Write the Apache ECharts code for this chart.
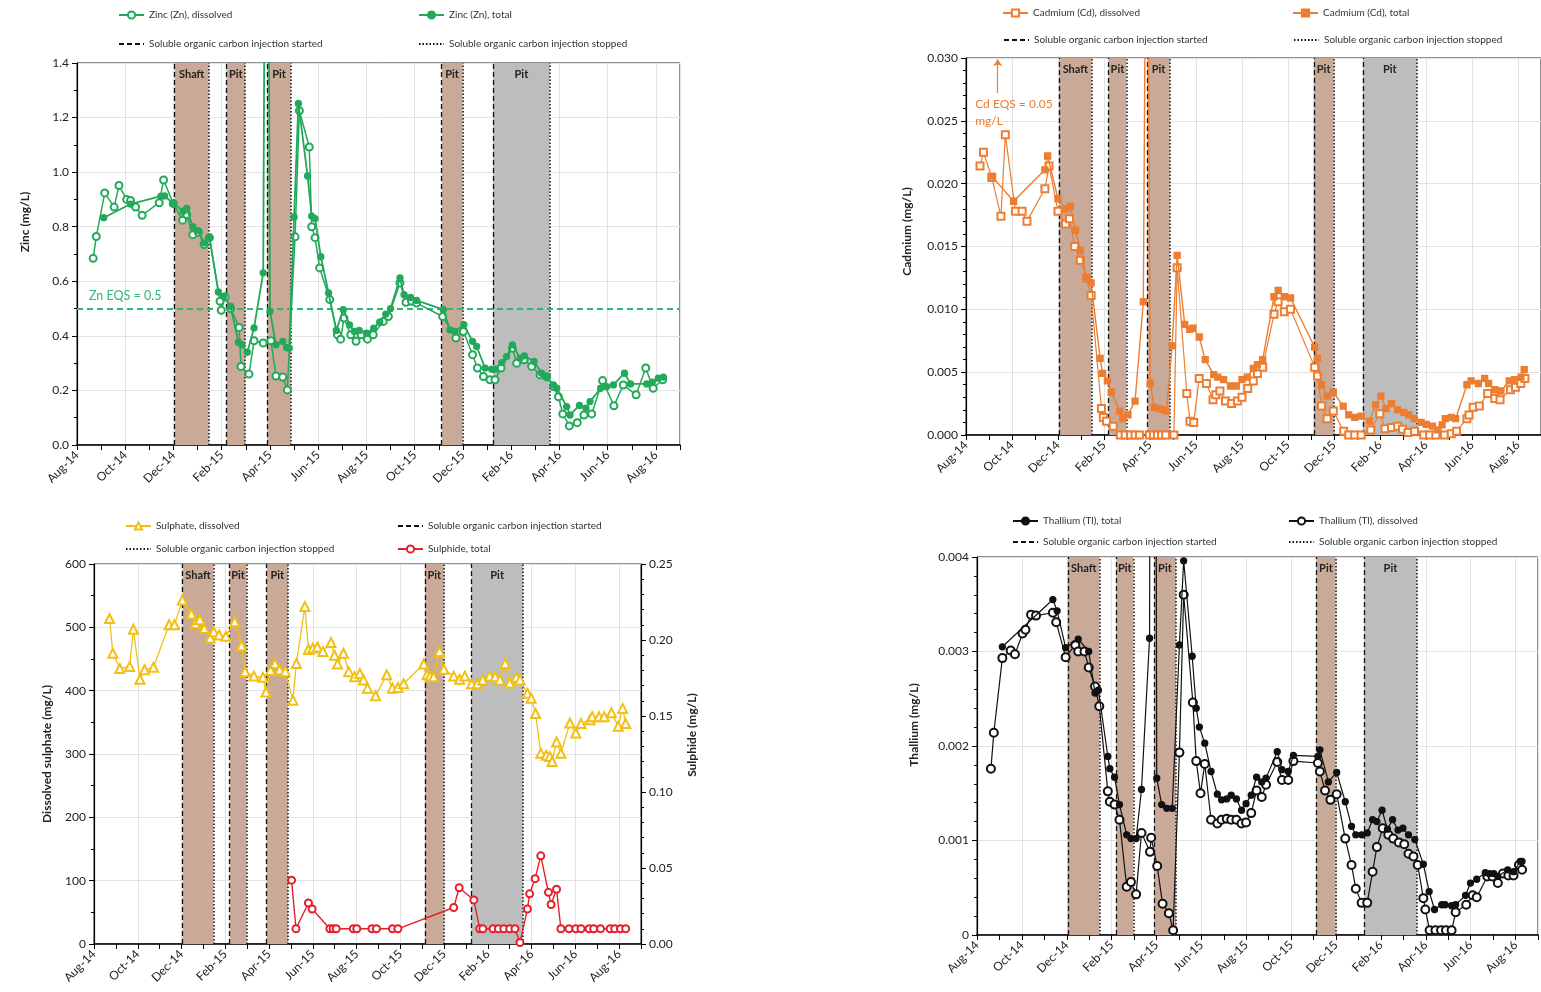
<!DOCTYPE html>
<html><head><meta charset="utf-8">
<script src="https://cdn.jsdelivr.net/npm/echarts@6/dist/echarts.min.js"></script>
<style>html,body{margin:0;padding:0;background:#fff}#c{width:1541px;height:992px}</style>
</head><body><div id="c"></div>
<script>
// x values are months since 1 Aug 2014 (0 = Aug-14, 24 = Aug-16)
const xTickLabels = ['Aug-14','Oct-14','Dec-14','Feb-15','Apr-15','Jun-15','Aug-15','Oct-15','Dec-15','Feb-16','Apr-16','Jun-16','Aug-16'];
const periodStart = [4.05, 6.20, 7.89, 15.12, 17.25];
const periodEnd   = [5.46, 6.97, 8.86, 15.98, 19.60];
const periodNames = ['Shaft','Pit','Pit','Pit','Pit'];
const znEqs = 0.5;
const cdEqsText = 'Cd EQS = 0.05\nmg/L';

const znDissolved = [[0.67,0.684],[0.80,0.764],[1.15,0.924],[1.54,0.872],[1.74,0.951],[2.06,0.90],[2.22,0.896],[2.43,0.872],[2.70,0.842],[3.41,0.888],[3.59,0.971],[3.99,0.885],[4.38,0.824],[4.55,0.845],[4.80,0.771],[5.03,0.78],[5.27,0.735],[5.49,0.76],[5.93,0.527],[5.98,0.494],[6.14,0.543],[6.37,0.50],[6.72,0.431],[6.80,0.288],[7.13,0.26],[7.34,0.382],[7.72,0.374],[8.04,0.382],[8.25,0.253],[8.53,0.249],[8.72,0.202],[9.04,0.763],[9.22,1.225],[9.63,1.092],[9.73,0.80],[9.87,0.76],[10.06,0.649],[10.48,0.533],[10.80,0.404],[10.93,0.388],[11.07,0.465],[11.35,0.404],[11.57,0.38],[11.78,0.404],[12.04,0.388],[12.28,0.404],[12.70,0.453],[12.91,0.471],[13.39,0.594],[13.64,0.523],[13.87,0.527],[14.08,0.52],[15.16,0.471],[15.71,0.392],[16.02,0.416],[16.40,0.331],[16.60,0.282],[16.85,0.251],[17.12,0.239],[17.33,0.239],[17.58,0.282],[18.05,0.355],[18.23,0.30],[18.53,0.312],[18.85,0.288],[19.20,0.257],[19.47,0.25],[19.75,0.214],[19.96,0.177],[20.14,0.114],[20.41,0.07],[20.74,0.082],[21.02,0.11],[21.34,0.114],[21.79,0.236],[22.26,0.144],[22.65,0.22],[23.18,0.184],[23.58,0.282],[23.89,0.208],[24.28,0.239]];
const znTotal = [[1.11,0.833],[2.22,0.883],[3.48,0.912],[3.63,0.913],[3.99,0.885],[4.41,0.857],[4.55,0.867],[4.80,0.80],[5.03,0.786],[5.27,0.741],[5.49,0.762],[5.86,0.561],[6.07,0.545],[6.37,0.508],[6.69,0.377],[6.83,0.367],[7.06,0.34],[7.34,0.429],[7.72,0.631],[7.87,3.5],[8.00,0.49],[8.25,0.367],[8.53,0.38],[8.69,0.357],[8.80,0.355],[9.00,0.836],[9.18,1.252],[9.56,0.986],[9.73,0.839],[9.87,0.83],[10.11,0.69],[10.43,0.557],[10.75,0.42],[11.04,0.496],[11.30,0.44],[11.50,0.416],[11.70,0.42],[12.00,0.41],[12.30,0.428],[12.55,0.45],[12.80,0.48],[13.00,0.50],[13.39,0.612],[13.56,0.551],[13.83,0.541],[14.08,0.53],[15.19,0.496],[15.46,0.422],[15.67,0.416],[16.04,0.441],[16.40,0.38],[16.57,0.361],[16.92,0.282],[17.19,0.278],[17.35,0.278],[17.61,0.302],[17.81,0.324],[18.05,0.367],[18.37,0.318],[18.55,0.327],[18.95,0.306],[19.26,0.263],[19.47,0.251],[19.75,0.22],[19.89,0.208],[20.30,0.141],[20.44,0.11],[20.83,0.145],[21.10,0.135],[21.27,0.159],[21.71,0.208],[21.96,0.214],[22.24,0.22],[22.70,0.263],[22.95,0.224],[23.62,0.224],[23.85,0.23],[24.10,0.245],[24.31,0.249]];

const cdDissolved = [[0.61,0.0214],[0.76,0.0225],[1.12,0.0205],[1.52,0.0174],[1.71,0.0239],[2.15,0.0178],[2.44,0.0178],[2.65,0.0170],[3.43,0.0196],[3.61,0.0214],[4.00,0.0178],[4.33,0.0168],[4.50,0.0172],[4.73,0.0150],[4.97,0.0139],[5.25,0.0125],[5.44,0.0111],[5.89,0.0021],[5.97,0.0014],[6.11,0.0011],[6.40,0.0007],[6.71,0],[6.92,0],[7.15,0],[7.35,0],[7.54,0],[7.97,0],[8.15,0],[8.32,0],[8.50,0],[8.68,0],[9.04,0],[9.18,0.0133],[9.60,0.0033],[9.74,0.0011],[9.90,0.0010],[10.14,0.0045],[10.45,0.0041],[10.74,0.0028],[10.86,0.0032],[11.04,0.0035],[11.28,0.0027],[11.55,0.0025],[11.80,0.0027],[12.00,0.0030],[12.25,0.0037],[12.49,0.0043],[12.67,0.0049],[12.90,0.0054],[13.39,0.0096],[13.57,0.0106],[13.84,0.0098],[14.11,0.0100],[15.16,0.0054],[15.28,0.0047],[15.46,0.0023],[15.70,0.0013],[15.97,0.0019],[16.42,0.0003],[16.64,0],[16.90,0],[17.18,0],[17.60,0.0004],[17.99,0.0017],[18.22,0.0005],[18.50,0.0006],[18.77,0.0007],[18.98,0.00045],[19.22,0.0002],[19.50,0.0003],[19.90,0],[20.16,0],[20.43,0],[20.80,0],[21.10,0.0001],[21.33,0.0003],[21.78,0.0013],[21.87,0.0016],[22.05,0.0022],[22.32,0.0023],[22.68,0.0033],[22.99,0.0029],[23.22,0.0028],[23.67,0.0036],[23.89,0.0038],[24.12,0.0041],[24.30,0.0045]];
const cdTotal = [[1.12,0.0206],[2.07,0.0186],[3.43,0.0211],[3.55,0.0222],[4.00,0.0188],[4.33,0.0180],[4.54,0.0182],[4.76,0.0163],[4.97,0.0147],[5.25,0.0125],[5.44,0.0121],[5.83,0.0061],[5.94,0.0049],[6.15,0.0043],[6.32,0.0034],[6.68,0.0019],[6.82,0.0013],[7.04,0.0016],[7.35,0.0027],[7.71,0.0106],[7.86,0.055],[8.01,0.0041],[8.18,0.0022],[8.40,0.0021],[8.59,0.0020],[8.72,0.0019],[8.96,0.0071],[9.18,0.0143],[9.51,0.0088],[9.73,0.0084],[9.87,0.0085],[10.14,0.0078],[10.40,0.0060],[10.77,0.0048],[10.95,0.0046],[11.20,0.0044],[11.50,0.0039],[11.75,0.0039],[12.00,0.0044],[12.23,0.0046],[12.49,0.0053],[12.67,0.0056],[12.90,0.0060],[13.39,0.0110],[13.57,0.0115],[13.84,0.0110],[14.11,0.0109],[15.16,0.0070],[15.28,0.0061],[15.46,0.0040],[15.70,0.0031],[15.97,0.0034],[16.40,0.0023],[16.64,0.0016],[16.90,0.0014],[17.18,0.0015],[17.54,0.0011],[17.81,0.0024],[18.04,0.0031],[18.26,0.0021],[18.50,0.0025],[18.77,0.0020],[19.04,0.0018],[19.25,0.0016],[19.49,0.0013],[19.79,0.0010],[20.01,0.00085],[20.28,0.0007],[20.52,0.0004],[20.70,0.0008],[20.84,0.0013],[21.10,0.0014],[21.29,0.0013],[21.78,0.0040],[21.96,0.0043],[22.28,0.0041],[22.55,0.0045],[22.72,0.0041],[22.99,0.0036],[23.26,0.0035],[23.62,0.0043],[23.85,0.0044],[24.13,0.0046],[24.27,0.0052]];

const so4Dissolved = [[0.71,514],[0.86,459],[1.18,435],[1.63,438],[1.80,497],[2.10,418],[2.31,433],[2.72,437],[3.43,504],[3.68,504],[4.04,543],[4.45,521],[4.64,506],[4.84,512],[5.04,498],[5.31,483],[5.47,493],[5.72,488],[6.03,486],[6.43,509],[6.74,471],[6.90,430],[7.31,423],[7.72,421],[7.86,398],[8.07,432],[8.27,443],[8.48,433],[8.74,430],[9.09,385],[9.25,443],[9.64,533],[9.80,465],[10.00,467],[10.21,469],[10.46,462],[10.83,476],[10.99,456],[11.13,442],[11.40,459],[11.64,430],[11.91,422],[12.15,427],[12.32,417],[12.50,404],[12.87,392],[13.38,425],[13.64,404],[13.89,405],[14.15,411],[15.07,442],[15.22,425],[15.36,423],[15.52,422],[15.79,462],[15.99,434],[16.44,423],[16.71,418],[16.95,423],[17.26,411],[17.52,411],[17.77,417],[18.08,423],[18.34,422],[18.55,417],[18.79,443],[19.00,412],[19.30,421],[19.47,417],[19.81,396],[19.98,388],[20.18,364],[20.42,301],[20.67,298],[20.83,296],[20.94,288],[21.14,319],[21.34,301],[21.75,349],[22.02,333],[22.26,348],[22.67,354],[22.77,359],[23.08,359],[23.32,359],[23.65,365],[23.96,344],[24.16,372],[24.30,348]];
const sulphideTotal = [[9.03,0.042],[9.23,0.010],[9.80,0.027],[9.97,0.023],[10.78,0.010],[10.93,0.010],[11.07,0.010],[11.85,0.010],[12.01,0.010],[12.70,0.010],[12.91,0.010],[13.64,0.010],[13.89,0.010],[16.44,0.024],[16.69,0.037],[17.36,0.029],[17.63,0.010],[17.77,0.010],[18.24,0.010],[18.48,0.010],[18.73,0.010],[19.00,0.010],[19.24,0.010],[19.47,0.001],[19.81,0.023],[19.91,0.033],[20.16,0.043],[20.42,0.058],[20.77,0.034],[20.89,0.026],[21.14,0.036],[21.34,0.010],[21.71,0.010],[22.02,0.010],[22.26,0.010],[22.63,0.010],[22.84,0.010],[23.15,0.010],[23.59,0.010],[23.80,0.010],[24.06,0.010],[24.30,0.010]];

const tlTotal = [[1.13,0.00305],[3.38,0.00355],[3.57,0.00343],[3.95,0.00304],[4.51,0.00313],[4.98,0.00300],[5.26,0.00256],[5.41,0.00259],[5.83,0.00189],[5.92,0.00176],[6.13,0.00167],[6.35,0.00138],[6.67,0.00106],[6.86,0.00102],[7.09,0.00102],[7.33,0.00154],[7.69,0.00314],[7.85,0.020],[8.01,0.00166],[8.23,0.00138],[8.46,0.00134],[8.70,0.00134],[9.02,0.00307],[9.21,0.00396],[9.59,0.00295],[9.77,0.00240],[9.91,0.00220],[10.15,0.00203],[10.43,0.00173],[10.71,0.00149],[10.90,0.00143],[11.13,0.00144],[11.33,0.00148],[11.56,0.00144],[11.79,0.00132],[11.99,0.00139],[12.22,0.00148],[12.46,0.00167],[12.69,0.00162],[12.88,0.00166],[13.38,0.00194],[13.59,0.00175],[13.87,0.00173],[14.10,0.00190],[15.19,0.00189],[15.28,0.00196],[15.66,0.00162],[16.03,0.00172],[16.41,0.00141],[16.69,0.00115],[16.88,0.00106],[17.14,0.00106],[17.39,0.00108],[17.63,0.00122],[17.82,0.00120],[18.05,0.00132],[18.29,0.00112],[18.52,0.00122],[18.76,0.00111],[18.98,0.00113],[19.23,0.00106],[19.51,0.00101],[19.89,0.00075],[20.15,0.00046],[20.39,0.00027],[20.71,0.00032],[20.86,0.00032],[21.15,0.00031],[21.33,0.00032],[21.77,0.00042],[21.99,0.00055],[22.27,0.00059],[22.65,0.00066],[22.84,0.00065],[23.03,0.00065],[23.21,0.00062],[23.65,0.00069],[23.91,0.00067],[24.21,0.00078],[24.29,0.00078]];
const tlDissolved = [[0.62,0.00176],[0.75,0.00214],[1.13,0.00293],[1.50,0.00301],[1.69,0.00297],[2.03,0.00319],[2.16,0.00323],[2.41,0.00339],[2.63,0.00338],[3.38,0.00341],[3.53,0.00331],[3.95,0.00294],[4.38,0.00307],[4.51,0.00300],[4.79,0.00300],[4.98,0.00283],[5.26,0.00263],[5.45,0.00242],[5.83,0.00152],[5.92,0.00141],[6.13,0.00138],[6.35,0.00122],[6.67,0.00051],[6.86,0.00056],[7.09,0.00043],[7.33,0.00108],[7.71,0.00088],[7.76,0.00103],[8.03,0.00073],[8.27,0.00033],[8.55,0.00023],[8.74,0.00005],[9.02,0.00193],[9.21,0.00360],[9.62,0.00246],[9.77,0.00184],[9.96,0.00150],[10.15,0.00181],[10.43,0.00122],[10.71,0.00118],[10.90,0.00122],[11.13,0.00123],[11.33,0.00122],[11.56,0.00122],[11.79,0.00118],[11.99,0.00119],[12.22,0.00129],[12.46,0.00153],[12.69,0.00146],[12.88,0.00159],[13.38,0.00183],[13.59,0.00164],[13.87,0.00164],[14.10,0.00184],[15.19,0.00182],[15.28,0.00173],[15.51,0.00153],[15.75,0.00143],[16.03,0.00149],[16.41,0.00102],[16.69,0.00074],[16.88,0.00049],[17.14,0.00034],[17.39,0.00034],[17.63,0.00067],[17.82,0.00093],[18.08,0.00113],[18.33,0.00106],[18.55,0.00102],[18.80,0.00098],[19.04,0.00096],[19.23,0.00086],[19.45,0.00083],[19.64,0.00074],[19.89,0.00039],[19.98,0.00027],[20.17,0.00005],[20.43,0.00005],[20.68,0.00005],[20.90,0.00005],[21.15,0.00005],[21.33,0.00024],[21.80,0.00032],[22.09,0.00042],[22.27,0.00040],[22.74,0.00062],[22.97,0.00062],[23.21,0.00055],[23.44,0.00065],[23.68,0.00063],[23.91,0.00063],[24.15,0.00074],[24.29,0.00069]];

// ---------------- styling / layout ----------------
const FONT = 'Lato, "Open Sans", sans-serif';
const GREEN = '#22a95a', ORANGE = '#ed7d31', GOLD = '#f2c014', RED = '#e5202a', BLACK = '#111';
const BROWN_BAND = '#c9a997', GREY_BAND = '#bdbdbd';
const NONE = 'rgba(0,0,0,0)';
const S_START = 'Soluble organic carbon injection started';
const S_STOP = 'Soluble organic carbon injection stopped';

const grids = [
  {left: 77,  top: 63,  width: 603, height: 382},
  {left: 966, top: 58,  width: 584, height: 377},
  {left: 94,  top: 564, width: 547, height: 380},
  {left: 977, top: 557, width: 561, height: 378}
];

const xAxes = [];
grids.forEach((g, i) => {
  xAxes.push({
    gridIndex: i, type: 'value', min: 0, max: 25, interval: 2, position: 'bottom',
    axisLine: {show: true, onZero: false, lineStyle: {color: '#000', width: 1.5}},
    axisTick: {show: false},
    axisLabel: {rotate: 45, fontSize: 12, color: '#222', fontFamily: FONT, margin: 8, showMaxLabel: false,
      formatter: v => (v % 2 === 0 && v <= 24) ? xTickLabels[v / 2] : ''},
    splitLine: {show: true, lineStyle: {color: '#e2e2e2', width: 1}}
  });
  xAxes.push({
    gridIndex: i, type: 'value', min: 0, max: 25, interval: 1, position: 'bottom',
    axisLine: {show: false, onZero: false},
    axisTick: {show: true, inside: false, length: 5, lineStyle: {color: '#000', width: 1}},
    axisLabel: {show: false}, splitLine: {show: false}
  });
});

function nameStyle(shift) {
  return {fontSize: 12, fontWeight: 'bold', color: '#222', fontFamily: FONT, padding: [0, 0, 0, shift]};
}
function yAxis(gi, o) {
  return Object.assign({
    gridIndex: gi, type: 'value', position: 'left', nameLocation: 'middle', nameRotate: 90,
    axisLine: {show: true, onZero: false, lineStyle: {color: '#000', width: 1.2}},
    axisTick: {show: true, inside: false, length: 5, lineStyle: {color: '#000'}},
    axisLabel: {fontSize: 12, color: '#222', fontFamily: FONT, margin: 8},
    splitLine: {show: true, lineStyle: {color: '#e2e2e2'}}
  }, o);
}
const minor = n => ({show: true, splitNumber: n, length: 3, lineStyle: {color: '#000'}});
const yAxes = [
  yAxis(0, {min: 0, max: 1.4, interval: 0.2, minorTick: minor(2),
    axisLabel: {fontSize: 12, color: '#222', fontFamily: FONT, margin: 8, formatter: v => v.toFixed(1)},
    name: 'Zinc (mg/L)', nameGap: 46, nameTextStyle: nameStyle(64)}),
  yAxis(1, {min: 0, max: 0.03, interval: 0.005, minorTick: minor(5),
    axisLabel: {fontSize: 12, color: '#222', fontFamily: FONT, margin: 8, formatter: v => v.toFixed(3)},
    name: 'Cadmium (mg/L)', nameGap: 53, nameTextStyle: nameStyle(30)}),
  yAxis(2, {min: 0, max: 600, interval: 100, minorTick: minor(2),
    axisLabel: {fontSize: 12, color: '#222', fontFamily: FONT, margin: 8},
    name: 'Dissolved sulphate (mg/L)', nameGap: 41, nameTextStyle: nameStyle(0)}),
  yAxis(2, {min: 0, max: 0.25, interval: 0.05, position: 'right', minorTick: minor(5),
    axisLabel: {fontSize: 12, color: '#222', fontFamily: FONT, margin: 8, formatter: v => v.toFixed(2)},
    splitLine: {show: false}, name: 'Sulphide (mg/L)', nameGap: 45, nameTextStyle: nameStyle(38)}),
  yAxis(3, {min: 0, max: 0.004, interval: 0.001, minorTick: minor(5),
    axisLabel: {fontSize: 12, color: '#222', fontFamily: FONT, margin: 8, formatter: v => v === 0 ? '0' : v.toFixed(3)},
    name: 'Thallium (mg/L)', nameGap: 57, nameTextStyle: nameStyle(42)})
];

function periodSeries(gi, yi) {
  const common = {type: 'line', data: [], xAxisIndex: 2 * gi, yAxisIndex: yi, symbol: 'none', silent: true, animation: false};
  return [
    Object.assign({}, common, {
      name: 'periods' + gi, z: 1,
      markArea: {silent: true,
        label: {show: true, position: 'insideTop', distance: 6, fontSize: 11, fontWeight: 'bold', color: '#222', fontFamily: FONT},
        data: periodStart.map((s, i) => [
          {name: periodNames[i], xAxis: s, itemStyle: {color: i === 4 ? GREY_BAND : BROWN_BAND, opacity: 1}},
          {xAxis: periodEnd[i]}])}
    }),
    Object.assign({}, common, {
      name: S_START, z: 6, lineStyle: {color: BLACK, type: [5, 3], width: 1.3},
      itemStyle: {color: NONE, borderColor: NONE, borderWidth: 0},
      markLine: {silent: true, symbol: ['none', 'none'], label: {show: false},
        lineStyle: {color: BLACK, type: [5, 3], width: 1.3},
        data: periodStart.map(v => ({xAxis: v}))}
    }),
    Object.assign({}, common, {
      name: S_STOP, z: 6, lineStyle: {color: BLACK, type: [1.5, 2], width: 1.5},
      itemStyle: {color: NONE, borderColor: NONE, borderWidth: 0},
      markLine: {silent: true, symbol: ['none', 'none'], label: {show: false},
        lineStyle: {color: BLACK, type: [1.5, 2], width: 1.5},
        data: periodEnd.map(v => ({xAxis: v}))}
    })
  ];
}

function dataSeries(name, data, gi, yi, color, symbol, size, width, z) {
  return {type: 'line', name, data, xAxisIndex: 2 * gi, yAxisIndex: yi, symbol, symbolSize: size,
    showAllSymbol: true, clip: true, z: z || 5, animation: false,
    lineStyle: {color, width: width}, itemStyle: {color, borderColor: color, borderWidth: 1.3}};
}

const series = [].concat(
  periodSeries(0, 0), periodSeries(1, 1), periodSeries(2, 2), periodSeries(3, 4),
  [
    dataSeries('Zinc (Zn), dissolved', znDissolved, 0, 0, GREEN, 'emptyCircle', 7, 1.5, 5),
    dataSeries('Zinc (Zn), total', znTotal, 0, 0, GREEN, 'circle', 6, 1.8, 7),
    dataSeries('Cadmium (Cd), dissolved', cdDissolved, 1, 1, ORANGE, 'emptyRect', 7, 1.2, 5),
    dataSeries('Cadmium (Cd), total', cdTotal, 1, 1, ORANGE, 'rect', 6, 1.4, 7),
    dataSeries('Sulphate, dissolved', so4Dissolved, 2, 2, GOLD, 'emptyTriangle', 9, 1.3, 5),
    dataSeries('Sulphide, total', sulphideTotal, 2, 3, RED, 'emptyCircle', 7, 1.4, 7),
    dataSeries('Thallium (Tl), total', tlTotal, 3, 4, BLACK, 'circle', 6, 1.2, 7),
    dataSeries('Thallium (Tl), dissolved', tlDissolved, 3, 4, BLACK, 'emptyCircle', 8, 1.2, 6),
    {type: 'line', name: 'znEqs', data: [], xAxisIndex: 0, yAxisIndex: 0, silent: true, z: 4,
      markLine: {silent: true, symbol: ['none', 'none'],
        lineStyle: {color: '#2fb872', type: [6, 4], width: 2},
        label: {show: true, position: 'insideStartTop', distance: [12, 6], formatter: 'Zn EQS = ' + znEqs, color: '#2fb872', fontSize: 12.5, fontFamily: FONT},
        data: [{yAxis: znEqs}]}},
    {type: 'line', name: 'cdNote', data: [], xAxisIndex: 2, yAxisIndex: 1, silent: true, z: 8,
      markLine: {silent: true, symbol: ['none', 'arrow'], symbolSize: 7, label: {show: false},
        lineStyle: {color: ORANGE, type: 'solid', width: 1.2},
        data: [[{coord: [1.38, 0.0272]}, {coord: [1.38, 0.0299]}]]},
      markPoint: {silent: true, symbol: 'circle', symbolSize: 0,
        label: {show: true, position: 'right', distance: 0, formatter: cdEqsText, color: ORANGE, fontSize: 12, lineHeight: 17, fontFamily: FONT, align: 'left'},
        data: [{coord: [0.40, 0.02568]}]}}
  ]
);

const legendPos = [
  ['Zinc (Zn), dissolved', 118, 15], ['Zinc (Zn), total', 418, 15], [S_START, 118, 44], [S_STOP, 418, 44],
  ['Cadmium (Cd), dissolved', 1002, 13], ['Cadmium (Cd), total', 1292, 13], [S_START, 1003, 40], [S_STOP, 1293, 40],
  ['Sulphate, dissolved', 125, 526], [S_START, 397, 526], [S_STOP, 125, 549], ['Sulphide, total', 397, 549],
  ['Thallium (Tl), total', 1012, 521], ['Thallium (Tl), dissolved', 1288, 521], [S_START, 1012, 542], [S_STOP, 1288, 542]
];
const legends = legendPos.map(([name, x, y]) => ({
  data: [name], left: x, top: y - 5, padding: 0, itemWidth: 25, itemHeight: 9, itemGap: 0, selectedMode: false,
  textStyle: {fontSize: 10, color: '#333', fontFamily: FONT}
}));

const chart = echarts.init(document.getElementById('c'), null, {renderer: 'canvas'});
chart.setOption({
  animation: false,
  backgroundColor: '#fff',
  textStyle: {fontFamily: FONT},
  grid: grids.map(g => Object.assign({show: true, borderColor: '#222', borderWidth: 1, backgroundColor: 'transparent'}, g)),
  xAxis: xAxes,
  yAxis: yAxes,
  legend: legends,
  series
});
</script></body></html>
